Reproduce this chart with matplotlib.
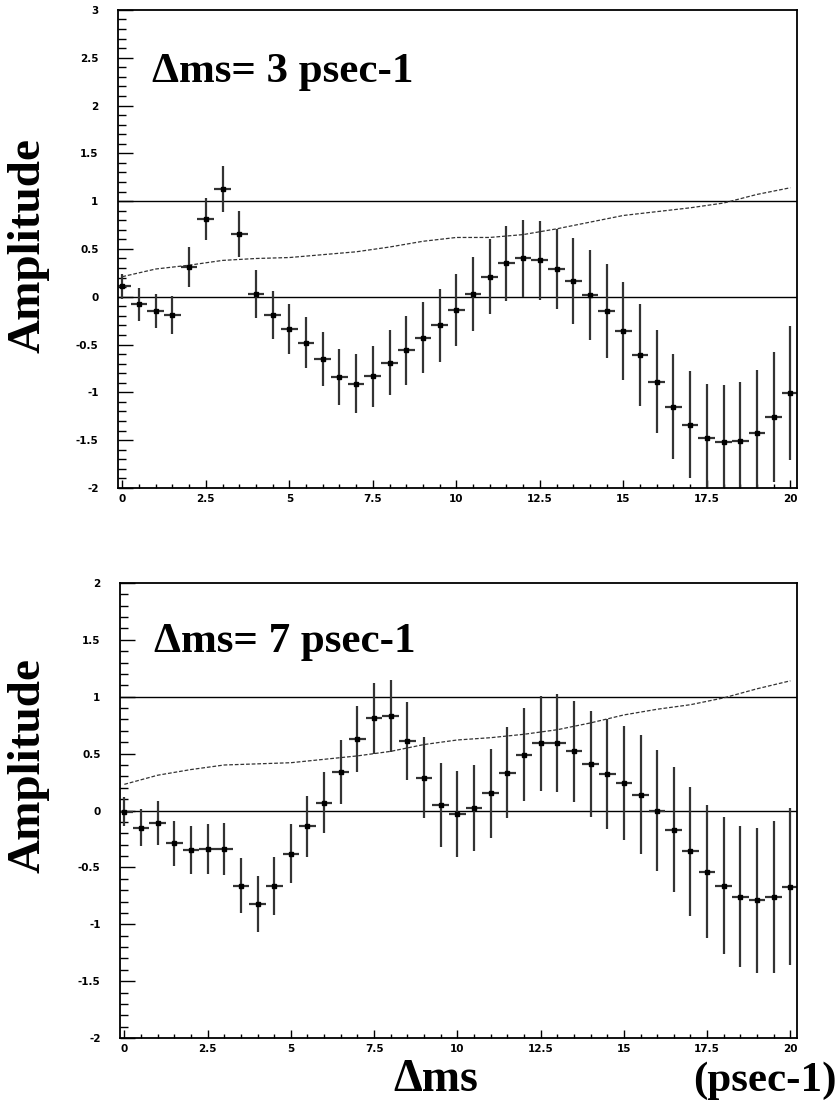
import matplotlib
matplotlib.use("Agg")
from matplotlib import pyplot as plt
from matplotlib.ticker import MultipleLocator, FuncFormatter

# dms scan points (psec-1)
dms = [0, 0.5, 1, 1.5, 2, 2.5, 3, 3.5, 4, 4.5, 5, 5.5, 6, 6.5, 7, 7.5, 8, 8.5, 9, 9.5,
       10, 10.5, 11, 11.5, 12, 12.5, 13, 13.5, 14, 14.5, 15, 15.5, 16, 16.5, 17, 17.5,
       18, 18.5, 19, 19.5, 20]

# top panel: generated dms = 3
amp_3 = [0.11, -0.08, -0.15, -0.19, 0.31, 0.81, 1.13, 0.66, 0.03, -0.19, -0.34, -0.48,
         -0.65, -0.84, -0.91, -0.83, -0.69, -0.56, -0.43, -0.30, -0.14, 0.03, 0.21, 0.35,
         0.40, 0.38, 0.29, 0.16, 0.02, -0.15, -0.36, -0.61, -0.89, -1.15, -1.34, -1.48,
         -1.52, -1.51, -1.43, -1.26, -1.01]
err_3 = [0.13, 0.17, 0.18, 0.20, 0.21, 0.22, 0.24, 0.24, 0.25, 0.25, 0.26, 0.27, 0.28,
         0.29, 0.31, 0.32, 0.34, 0.36, 0.37, 0.38, 0.38, 0.39, 0.39, 0.39, 0.40, 0.41,
         0.42, 0.45, 0.47, 0.49, 0.51, 0.53, 0.54, 0.55, 0.56, 0.57, 0.60, 0.62, 0.66,
         0.68, 0.70]

# bottom panel: generated dms = 7
amp_7 = [-0.01, -0.15, -0.11, -0.29, -0.35, -0.34, -0.34, -0.66, -0.82, -0.66, -0.38,
         -0.14, 0.07, 0.34, 0.63, 0.81, 0.83, 0.61, 0.29, 0.05, -0.03, 0.02, 0.15, 0.33,
         0.49, 0.59, 0.59, 0.52, 0.41, 0.32, 0.24, 0.14, 0.00, -0.17, -0.36, -0.54,
         -0.66, -0.76, -0.79, -0.76, -0.67]
err_7 = [0.13, 0.165, 0.19, 0.20, 0.21, 0.22, 0.23, 0.245, 0.245, 0.255, 0.26, 0.27,
         0.27, 0.28, 0.29, 0.31, 0.32, 0.34, 0.36, 0.37, 0.38, 0.38, 0.395, 0.40, 0.41,
         0.415, 0.43, 0.445, 0.465, 0.485, 0.50, 0.52, 0.53, 0.55, 0.565, 0.585, 0.60,
         0.62, 0.64, 0.665, 0.69]

# sensitivity curves (dashed), read at integer dms
sens_x = list(range(0, 21))
sens_3 = [0.21, 0.29, 0.33, 0.38, 0.40, 0.41, 0.44, 0.47, 0.52, 0.58, 0.62, 0.62, 0.65,
          0.71, 0.78, 0.85, 0.89, 0.93, 0.98, 1.07, 1.14]
sens_7 = [0.23, 0.31, 0.36, 0.40, 0.41, 0.42, 0.45, 0.48, 0.52, 0.58, 0.62, 0.64, 0.67,
          0.71, 0.77, 0.84, 0.89, 0.93, 0.99, 1.07, 1.14]

SERIF = ["Liberation Serif", "DejaVu Serif"]
TICKFONT = {"family": "DejaVu Sans", "weight": "bold", "size": 7.5}


def fmt(v, pos):
    return "%g" % v


def draw_panel(ax, amp, err, sens, ylim, title):
    ax.axhline(1, color="black", lw=1.0)
    ax.axhline(0, color="black", lw=1.0)
    ax.plot(sens_x, sens, color="#333333", lw=0.9, linestyle=(0, (3, 1.5)))
    ax.errorbar(dms, amp, yerr=err, xerr=0.25, fmt="s", ms=3, color="black",
                ecolor="#333333", elinewidth=1.6, capsize=0)
    ax.set_xlim(-0.13, 20.2)
    ax.set_ylim(*ylim)

    ax.xaxis.set_major_locator(MultipleLocator(2.5))
    ax.xaxis.set_minor_locator(MultipleLocator(0.5))
    ax.yaxis.set_major_locator(MultipleLocator(0.5))
    ax.yaxis.set_minor_locator(MultipleLocator(0.1))
    ax.xaxis.set_major_formatter(FuncFormatter(fmt))
    ax.yaxis.set_major_formatter(FuncFormatter(fmt))
    ax.tick_params(axis="y", which="major", direction="in", length=11, width=1.0, pad=14)
    ax.tick_params(axis="y", which="minor", direction="in", length=5.5, width=1.0)
    ax.tick_params(axis="x", which="major", direction="in", length=5.5, width=1.0, pad=4)
    ax.tick_params(axis="x", which="minor", direction="in", length=3, width=1.0)
    ax.tick_params(top=False, right=False, which="both")
    for lab in ax.get_xticklabels() + ax.get_yticklabels():
        lab.set_fontproperties(TICKFONT)
    for sp in ax.spines.values():
        sp.set_linewidth(1.3)

    ax.text(0.05, 0.849, title, transform=ax.transAxes, ha="left", va="baseline",
            fontsize=31, fontweight="bold", family=SERIF)


fig = plt.figure(figsize=(8.38, 11.01), dpi=100)
ax_top = fig.add_axes([0.1408, 0.5568, 0.8103, 0.4342])
ax_bot = fig.add_axes([0.1432, 0.0572, 0.8079, 0.4133])

draw_panel(ax_top, amp_3, err_3, sens_3, (-2, 3), "\u0394ms= 3 psec-1")
draw_panel(ax_bot, amp_7, err_7, sens_7, (-2, 2), "\u0394ms= 7 psec-1")

fig.text(0.034, 0.777, "Amplitude", rotation=90, ha="center", va="center",
         fontsize=34, fontweight="bold", family=SERIF)
fig.text(0.034, 0.305, "Amplitude", rotation=90, ha="center", va="center",
         fontsize=34, fontweight="bold", family=SERIF)
fig.text(0.52, 0.009, "\u0394ms", ha="center", va="baseline",
         fontsize=33, fontweight="bold", family=SERIF)
fig.text(0.998, 0.009, "(psec-1)", ha="right", va="baseline",
         fontsize=31, fontweight="bold", family=SERIF)

fig.savefig("out.png", dpi=100)
